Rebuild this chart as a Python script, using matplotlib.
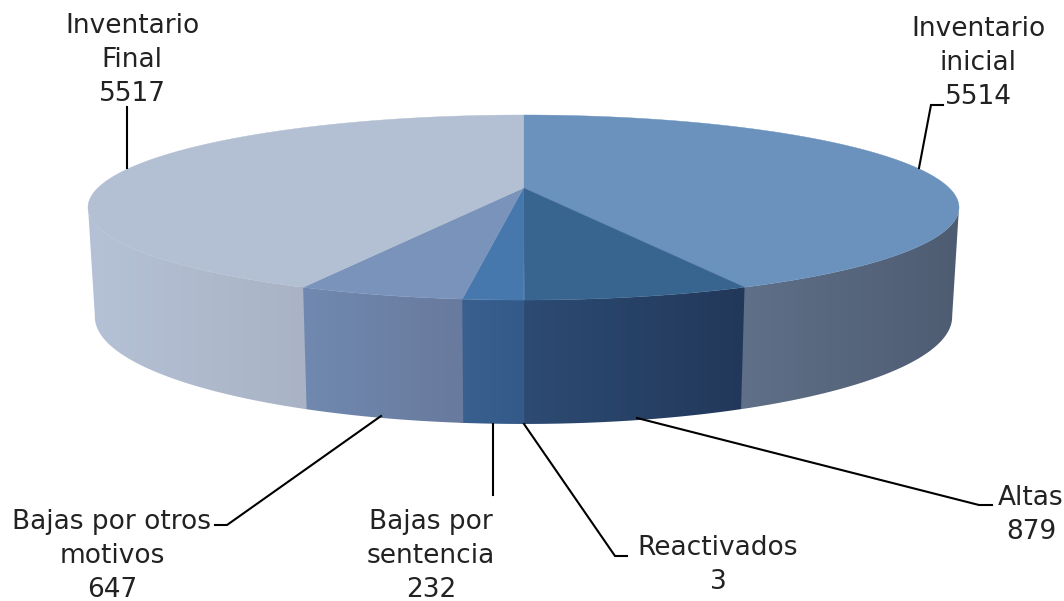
import numpy as np
import matplotlib
matplotlib.use('Agg')
import matplotlib.pyplot as plt
from matplotlib.colors import LinearSegmentedColormap
from matplotlib.patches import Polygon

# slices, clockwise from 12 o'clock
labels = ['Inventario\ninicial\n5514', 'Altas\n879', 'Reactivados\n3',
          'Bajas por\nsentencia\n232', 'Bajas por otros\nmotivos\n647',
          'Inventario\nFinal\n5517']
values = [5514, 879, 3, 232, 647, 5517]
top_colors = ['#6a92bd', '#38658f', '#4678ae', '#4678ae', '#7a93bb', '#b3bfd3']
# wall shading: colour at the right end and at the left end of each slice
side_right = ['#4e5c72', '#22385a', '#345a8a', '#345a8a', '#687a9d', '#a9b3c5']
side_left = ['#5f7088', '#2d4b73', '#3a6090', '#3a6090', '#7189b0', '#b5c1d6']

# label centres and leader lines, in pixels
label_xy = [(978, 63), (1031, 515), (718, 565), (431, 556), (112, 556), (132, 60)]
leaders = [
    [(919, 168), (931, 105), (943, 105)],
    [(637, 418), (979, 505), (992, 505)],
    [(524, 424), (615, 556), (627, 556)],
    [(493, 424), (493, 495)],
    [(381, 416), (227, 525), (215, 525)],
    [(127, 168), (127, 107)],
]

CX = 523.5
K = 0.211  # perspective


def project(theta, cy, a, b):
    """Perspective projection of the rim of the pie, theta in degrees."""
    t = np.radians(theta)
    x, y = np.sin(t), np.cos(t)
    w = 1 + K * y
    return CX + a * x / w, cy - b * y / w


def top_rim(theta):
    return project(theta, 188, 425.7, 88.4)


def bottom_rim(theta):
    return project(theta, 294.3, 419.0, 102.3)


def main():
    fig = plt.figure(figsize=(10.64, 6.01), dpi=100)
    ax = fig.add_axes([0, 0, 1, 1])

    edges = np.concatenate([[0], np.cumsum(values)]) / np.sum(values) * 360

    # side wall, only the part between the two widest points is visible
    for i in range(len(values)):
        start, end = max(edges[i], 102), min(edges[i + 1], 258)
        # small overlap so no seam shows between two slices
        th = np.linspace(start, end + 0.3, 100)
        xt, yt = top_rim(th)
        xb, yb = bottom_rim(th)
        xs = np.r_[xt, xb[::-1]]
        ys = np.r_[yt, yb[::-1]]
        cmap = LinearSegmentedColormap.from_list('w', [side_left[i], side_right[i]])
        im = ax.imshow(np.linspace(0, 1, 256)[None, :], cmap=cmap, aspect='auto',
                       extent=(xs.min(), xs.max(), ys.max(), ys.min()),
                       interpolation='bilinear', zorder=2)
        im.set_clip_path(Polygon(np.c_[xs, ys], transform=ax.transData))

    # top face
    for i in range(len(values)):
        th = np.linspace(edges[i], edges[i + 1], 200)
        x, y = top_rim(th)
        ax.fill(np.r_[CX, x], np.r_[188, y], color=top_colors[i], lw=0.3, zorder=3)

    for pts in leaders:
        pts = np.array(pts)
        ax.plot(pts[:, 0], pts[:, 1], color='black', lw=1.5, zorder=4,
                solid_joinstyle='miter')

    for lab, (x, y) in zip(labels, label_xy):
        ax.text(x, y, lab, ha='center', va='center', fontsize=19,
                family='DejaVu Sans', color='#222222', linespacing=1.4, zorder=5)

    ax.set_xlim(0, 1064)
    ax.set_ylim(601, 0)
    ax.axis('off')
    fig.savefig('out.png', dpi=100)


if __name__ == '__main__':
    main()
